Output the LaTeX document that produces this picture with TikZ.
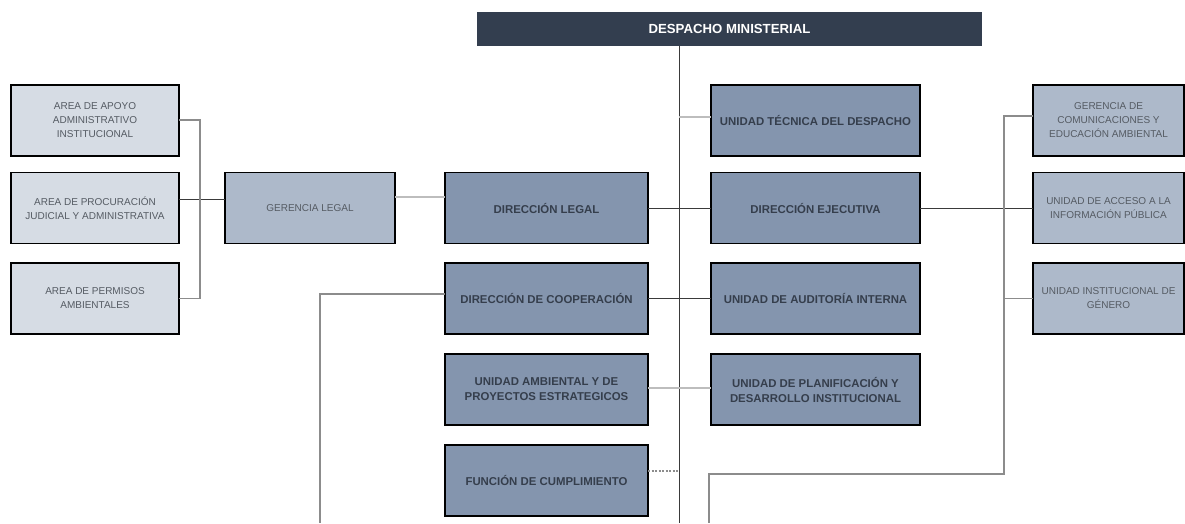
\documentclass[tikz,border=0pt]{standalone}
\usepackage{fontspec}
\setmainfont{Liberation Sans}
\begin{document}
\begin{tikzpicture}[x=1pt,y=-1pt,
  every node/.style={inner sep=0pt, outer sep=0pt, align=center},
  boxbase/.style={draw=black, line width=1.6pt, minimum height=71pt},
  midbox/.style={boxbase, fill=midfill, text=midtext, font=\bfseries\fontsize{11.4}{15}\selectfont, minimum width=203pt},
  grbox/.style={boxbase, fill=grfill, text=grtext, font=\fontsize{10}{14}\selectfont},
  ltbox/.style={boxbase, fill=ltfill, text=grtext, font=\fontsize{10}{14}\selectfont, minimum width=168pt},
  darkline/.style={draw=darkln, line width=1pt},
  lightline/.style={draw=lightln, line width=1.5pt},
  grayline/.style={draw=grayln, line width=1.2pt}
]
\definecolor{topfill}{HTML}{333E4F}
\definecolor{midfill}{HTML}{8495AE}
\definecolor{midtext}{HTML}{353E4C}
\definecolor{grfill}{HTML}{ADB9CA}
\definecolor{ltfill}{HTML}{D6DCE4}
\definecolor{grtext}{HTML}{555B63}
\definecolor{darkln}{HTML}{3A3A3A}
\definecolor{lightln}{HTML}{BDBDBD}
\definecolor{grayln}{HTML}{8C8C8C}
\useasboundingbox (0,0) rectangle (1185,523);
\fill[white] (0,0) rectangle (1185,523);

% top
\node[fill=topfill, text=white, font=\bfseries\fontsize{13.2}{15}\selectfont, minimum width=505pt, minimum height=34pt] (desp) at (729.5,29) {DESPACHO MINISTERIAL};

% left column
\node[ltbox] (l1) at (95,120.5) {AREA DE APOYO\\ADMINISTRATIVO\\INSTITUCIONAL};
\node[ltbox] (l2) at (95,208) {AREA DE PROCURACIÓN\\JUDICIAL Y ADMINISTRATIVA};
\node[ltbox] (l3) at (95,298.5) {AREA DE PERMISOS\\AMBIENTALES};

\node[grbox, minimum width=170pt] (gl) at (310,208) {GERENCIA LEGAL};

% middle columns
\node[midbox] (dl) at (546.5,208) {DIRECCIÓN LEGAL};
\node[midbox] (dc) at (546.5,298.5) {DIRECCIÓN DE COOPERACIÓN};
\node[midbox] (ua) at (546.5,389.5) {UNIDAD AMBIENTAL Y DE\\PROYECTOS ESTRATEGICOS};
\node[midbox] (fc) at (546.5,480.5) {FUNCIÓN DE CUMPLIMIENTO};

\node[midbox, minimum width=209pt] (ut) at (815.5,120.5) {UNIDAD TÉCNICA DEL DESPACHO};
\node[midbox, minimum width=209pt] (de) at (815.5,208) {DIRECCIÓN EJECUTIVA};
\node[midbox, minimum width=209pt] (ai) at (815.5,298.5) {UNIDAD DE AUDITORÍA INTERNA};
\node[midbox, minimum width=209pt] (up) at (815.5,389.5) {UNIDAD DE PLANIFICACIÓN Y\\DESARROLLO INSTITUCIONAL};

% right column
\node[grbox, minimum width=151pt] (r1) at (1108.5,120.5) {GERENCIA DE\\COMUNICACIONES Y\\EDUCACIÓN AMBIENTAL};
\node[grbox, minimum width=151pt] (r2) at (1108.5,208) {UNIDAD DE ACCESO A LA\\INFORMACIÓN PÚBLICA};
\node[grbox, minimum width=151pt] (r3) at (1108.5,298.5) {UNIDAD INSTITUCIONAL DE\\GÉNERO};

% coordinates
\coordinate (t0) at (679,46);
\coordinate (tb) at (679,523);
\coordinate (lb) at (200,120);
\coordinate (dcb) at (320,523);
\coordinate (rb) at (1004,116);
\coordinate (rk) at (1004,474);
\coordinate (rk2) at (709,474);
\coordinate (rend) at (709,523);

% trunk
\draw[darkln, line width=1pt] (t0) -- (tb);
\draw[lightline] ([yshift=3.5pt]ut.west) -- ([yshift=3.5pt]ut.west -| t0);
\draw[darkline] (dl.east) -- (de.west);
\draw[darkline] (dc.east) -- (ai.west);
\draw[lightline] ([yshift=1.5pt]ua.east) -- ([yshift=1.5pt]up.west);
\draw[grayline, dash pattern=on 2pt off 1.5pt] ([yshift=9.5pt]fc.east) -- ([yshift=9.5pt]fc.east -| t0);

% left side
\draw[lightline] ([yshift=11pt]gl.east) -- ([yshift=11pt]dl.west);
\draw[darkline] ([yshift=9pt]l2.east) -- ([yshift=9pt]gl.west);
\draw[grayline] ([yshift=0.5pt]l1.east) -- (lb) -- (lb |- l3.east) -- (l3.east);
\draw[grayline] ([yshift=4.5pt]dc.west) -- ([yshift=4.5pt]dc.west -| dcb) -- (dcb);

% right side
\draw[darkline] (de.east) -- (r2.west);
\draw[grayline] ([yshift=4.5pt]r1.west) -- (rb) -- (rk) -- (rk2) -- (rend);
\draw[grayline] (rb |- r3.west) -- (r3.west);
\end{tikzpicture}
\end{document}
